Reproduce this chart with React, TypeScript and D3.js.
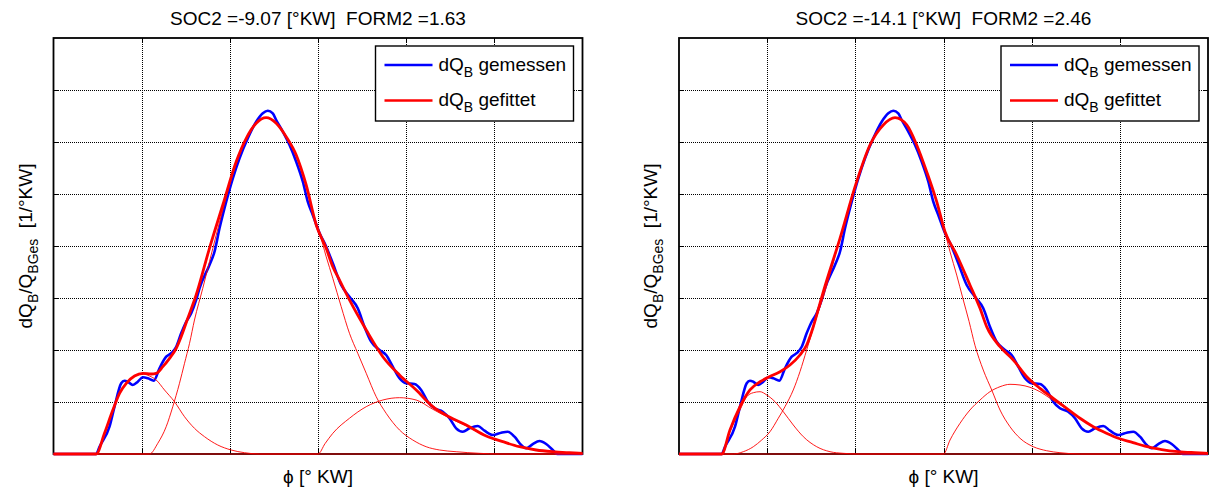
import React from 'react';
import * as d3 from 'd3';

type Pt = [number, number];

// x: crank angle [°KW] (no tick labels shown), y: dQB/QBGes in units of grid steps
const X_GRID = [-30, -20, -10, 0, 10, 20, 30];
const Y_GRID = [0, 1, 2, 3, 4, 5, 6, 7, 8];

const TITLES = ['SOC2 =-9.07 [°KW]  FORM2 =1.63', 'SOC2 =-14.1 [°KW]  FORM2 =2.46'];
const LEGEND_LABELS = ['gemessen', 'gefittet'];

// measured (same in both panels)
const measured: Pt[] = [
  [-30, 0], [-25.16, 0], [-24.78, 0.14], [-23.65, 0.525], [-23.08, 0.91], [-22.32, 1.36], [-21.95, 1.41],
  [-21.57, 1.39], [-21.01, 1.327], [-20.44, 1.39], [-19.87, 1.475], [-19.3, 1.456], [-18.62, 1.41],
  [-17.98, 1.648], [-17.22, 1.871], [-16.58, 1.948], [-16.08, 2.063], [-15.52, 2.321], [-14.95, 2.544],
  [-14.38, 2.706], [-13.82, 2.962], [-13.44, 3.187], [-12.31, 3.635], [-11.74, 3.89], [-11.17, 4.34],
  [-10.41, 4.852], [-9.66, 5.302], [-8.9, 5.687], [-7.96, 6.071], [-7.01, 6.39], [-6.26, 6.552],
  [-5.69, 6.602], [-5.13, 6.552], [-4.74, 6.423], [-3.99, 6.198], [-3.23, 5.942], [-2.47, 5.621],
  [-1.72, 5.237], [-1.16, 4.852], [-0.59, 4.596], [0.17, 4.25], [0.93, 3.987], [1.68, 3.667],
  [2.63, 3.25], [3.57, 3.025], [4.51, 2.802], [5.27, 2.448], [6.03, 2.16], [6.97, 2.0], [7.73, 1.904],
  [8.48, 1.679], [9.24, 1.456], [10.0, 1.36], [10.94, 1.346], [11.7, 1.231], [12.45, 1.006],
  [13.21, 0.879], [14.15, 0.813], [14.91, 0.687], [15.67, 0.494], [16.42, 0.429], [17.18, 0.494],
  [18.12, 0.538], [18.88, 0.448], [19.83, 0.365], [20.78, 0.41], [21.53, 0.429], [22.29, 0.333],
  [23.05, 0.173], [23.61, 0.11], [24.36, 0.192], [25.12, 0.25], [25.88, 0.192], [26.63, 0.077],
  [27.16, 0], [30, 0],
];

// left panel
const fitA: Pt[] = [
  [-30, 0], [-25.16, 0], [-24.22, 0.398], [-23.27, 0.846], [-22.51, 1.167], [-21.75, 1.36], [-20.81, 1.5],
  [-19.87, 1.552], [-18.92, 1.538], [-18.35, 1.552], [-17.6, 1.679], [-16.84, 1.84], [-16.08, 2.033],
  [-15.52, 2.256], [-14.77, 2.61], [-13.82, 3.058], [-12.31, 3.956], [-10.8, 4.788], [-9.28, 5.621],
  [-8.14, 6.071], [-7.01, 6.36], [-5.88, 6.467], [-4.74, 6.36], [-3.61, 6.102], [-2.47, 5.75],
  [-1.34, 5.173], [-0.2, 4.404], [0.93, 3.956], [1.68, 3.602], [2.44, 3.346], [3.57, 2.962],
  [5.47, 2.385], [7.35, 1.871], [9.24, 1.519], [11.14, 1.231], [13.02, 0.91], [14.91, 0.712],
  [16.81, 0.558], [19.08, 0.346], [20.96, 0.237], [22.85, 0.14], [24.75, 0.077], [26.63, 0.044],
  [28.52, 0.025], [30, 0.013],
];
const compA1: Pt[] = [
  [-30, 0], [-25.16, 0], [-24.22, 0.398], [-23.27, 0.846], [-22.51, 1.167], [-21.75, 1.36], [-20.81, 1.49],
  [-19.87, 1.538], [-19.11, 1.5], [-18.35, 1.423], [-17.41, 1.231], [-16.28, 1.006], [-15.14, 0.717],
  [-14.01, 0.494], [-12.87, 0.333], [-11.37, 0.173], [-9.85, 0.077], [-8.34, 0.025], [-6.64, 0], [30, 0],
];
const compA2: Pt[] = [
  [-30, 0], [-19.11, 0], [-18.17, 0.206], [-17.22, 0.525], [-16.47, 0.91], [-15.71, 1.36], [-15.14, 1.744],
  [-14.57, 2.129], [-14.01, 2.577], [-13.07, 3.187], [-12.31, 3.7], [-10.8, 4.69], [-9.28, 5.58],
  [-8.14, 6.05], [-7.01, 6.35], [-5.88, 6.467], [-4.74, 6.36], [-3.61, 6.102], [-2.47, 5.75],
  [-1.34, 5.173], [-0.2, 4.404], [0.17, 4.244], [0.93, 3.794], [1.68, 3.379], [2.63, 2.833],
  [3.57, 2.321], [4.51, 1.937], [5.47, 1.552], [6.6, 1.102], [7.73, 0.783], [9.24, 0.462],
  [10.75, 0.269], [12.27, 0.14], [13.78, 0.077], [15.67, 0.044], [18.32, 0.013], [20.6, 0], [30, 0],
];
const compA3: Pt[] = [
  [-30, 0], [0, 0], [0.8, 0.2], [1.68, 0.398], [3.57, 0.687], [5.47, 0.91], [7.35, 1.038], [9.24, 1.083],
  [11.14, 1.038], [13.02, 0.86], [14.91, 0.69], [16.81, 0.54], [19.08, 0.34], [20.96, 0.235],
  [22.85, 0.14], [24.75, 0.077], [26.63, 0.044], [28.52, 0.025], [30, 0.013],
];

// right panel
const fitB: Pt[] = [
  [-30, 0], [-25.16, 0], [-24.22, 0.462], [-23.08, 0.91], [-21.95, 1.231], [-20.81, 1.39], [-19.87, 1.475],
  [-18.54, 1.583], [-17.41, 1.712], [-16.28, 1.904], [-15.52, 2.096], [-14.77, 2.448], [-14.01, 2.898],
  [-13.63, 3.121], [-11.74, 4.148], [-9.85, 5.237], [-8.34, 5.942], [-6.83, 6.327], [-5.5, 6.467],
  [-4.17, 6.327], [-3.04, 5.942], [-1.91, 5.429], [-0.77, 4.852], [0.17, 4.275], [1.5, 3.827],
  [3.0, 3.25], [4.14, 2.802], [4.9, 2.448], [6.41, 2.063], [7.92, 1.808], [9.44, 1.487], [10.94, 1.263],
  [12.45, 1.071], [13.97, 0.879], [15.48, 0.687], [16.99, 0.525], [18.51, 0.398], [19.83, 0.302],
  [21.5, 0.22], [22.85, 0.15], [24.75, 0.085], [26.63, 0.045], [28.52, 0.025], [30, 0.013],
];
const compB1: Pt[] = [
  [-30, 0], [-25.16, 0], [-24.22, 0.429], [-23.08, 0.846], [-22.32, 1.102], [-21.57, 1.179], [-20.81, 1.198],
  [-20.05, 1.135], [-19.11, 1.006], [-18.17, 0.813], [-17.04, 0.558], [-15.9, 0.333], [-14.38, 0.14],
  [-12.87, 0.044], [-11.37, 0.013], [-9.5, 0], [30, 0],
];
const compB2: Pt[] = [
  [-30, 0], [-23.84, 0], [-22.71, 0.044], [-21.57, 0.14], [-20.62, 0.269], [-19.68, 0.429], [-18.74, 0.687],
  [-17.98, 0.91], [-17.04, 1.231], [-16.28, 1.583], [-15.52, 2.0], [-14.95, 2.321], [-14.38, 2.64],
  [-13.82, 2.92], [-11.74, 4.14], [-9.85, 5.237], [-8.34, 5.942], [-6.83, 6.327], [-5.5, 6.467],
  [-4.17, 6.327], [-3.04, 5.942], [-1.91, 5.429], [-0.77, 4.852], [0.0, 4.37], [0.74, 3.89], [1.5, 3.44],
  [2.2, 2.99], [2.9, 2.55], [3.57, 2.09], [4.51, 1.615], [5.47, 1.231], [6.41, 0.846], [7.54, 0.525],
  [8.68, 0.302], [10.19, 0.14], [11.7, 0.063], [13.21, 0.025], [15.5, 0], [30, 0],
];
const compB3: Pt[] = [
  [-30, 0], [0, 0], [0.74, 0.269], [1.87, 0.59], [3.0, 0.846], [4.14, 1.038], [5.27, 1.198], [6.41, 1.294],
  [7.54, 1.34], [8.68, 1.327], [9.81, 1.283], [10.94, 1.198], [12.08, 1.071], [13.21, 0.95], [13.97, 0.87],
  [15.48, 0.68], [16.99, 0.52], [18.51, 0.395], [19.83, 0.3], [21.5, 0.218], [22.85, 0.15], [24.75, 0.085],
  [26.63, 0.045], [28.52, 0.025], [30, 0.013],
];

const FONT = '"Liberation Sans", Arial, Helvetica, sans-serif';
const PLOT_W = 529;
const TOP = 38;
const BOTTOM = 454;

function Panel({ left, title, fit, comps }: { left: number; title: string; fit: Pt[]; comps: Pt[][] }) {
  const x = d3.scaleLinear().domain([X_GRID[0], X_GRID[X_GRID.length - 1]]).range([left, left + PLOT_W]);
  const y = d3.scaleLinear().domain([Y_GRID[0], Y_GRID[Y_GRID.length - 1]]).range([BOTTOM, TOP]);
  const line = d3
    .line<Pt>()
    .x((d) => x(d[0]))
    .y((d) => y(d[1]))
    .curve(d3.curveMonotoneX);
  const right = left + PLOT_W;
  const cx = left + PLOT_W / 2;
  const cy = (TOP + BOTTOM) / 2;
  const legW = 198;
  const legH = 75;
  const legX = right - 9 - legW;
  const legY = TOP + 8;
  const tick = 5;
  const snap = (v: number) => Math.round(v) + 0.5;
  return (
    <g>
      <rect x={left} y={TOP} width={PLOT_W} height={BOTTOM - TOP} fill="#fff" />
      <g shapeRendering="crispEdges">
        {X_GRID.slice(1, -1).map((v) => (
          <line key={'gx' + v} x1={snap(x(v))} x2={snap(x(v))} y1={TOP} y2={BOTTOM} stroke="#000" strokeWidth={1} strokeDasharray="1 1" />
        ))}
        {Y_GRID.slice(1, -1).map((v) => (
          <line key={'gy' + v} x1={left} x2={right} y1={snap(y(v))} y2={snap(y(v))} stroke="#000" strokeWidth={1} strokeDasharray="1 1" />
        ))}
        {X_GRID.slice(1, -1).map((v) => (
          <g key={'tx' + v} stroke="#000" strokeWidth={1}>
            <line x1={snap(x(v))} x2={snap(x(v))} y1={BOTTOM} y2={BOTTOM - tick} />
            <line x1={snap(x(v))} x2={snap(x(v))} y1={TOP} y2={TOP + tick} />
          </g>
        ))}
        {Y_GRID.slice(1, -1).map((v) => (
          <g key={'ty' + v} stroke="#000" strokeWidth={1}>
            <line x1={left} x2={left + tick} y1={snap(y(v))} y2={snap(y(v))} />
            <line x1={right} x2={right - tick} y1={snap(y(v))} y2={snap(y(v))} />
          </g>
        ))}
      </g>
      <rect x={left} y={TOP} width={PLOT_W} height={BOTTOM - TOP} fill="none" stroke="#000" strokeWidth={1.8} />
      <path d={line(measured) || ''} fill="none" stroke="#0000ff" strokeWidth={2.6} strokeLinejoin="round" />
      <path d={line(fit) || ''} fill="none" stroke="#ff0000" strokeWidth={2.8} strokeLinejoin="round" />
      {comps.map((c, i) => (
        <path key={'c' + i} d={line(c) || ''} fill="none" stroke="#ff0000" strokeWidth={0.9} />
      ))}
      {/* legend */}
      <rect x={legX} y={legY} width={legW} height={legH} fill="#fff" stroke="#000" strokeWidth={1.4} />
      {LEGEND_LABELS.map((lab, i) => {
        const ly = legY + 19 + i * 35.5;
        return (
          <g key={lab}>
            <line x1={legX + 9} x2={legX + 57} y1={ly} y2={ly} stroke={i === 0 ? '#0000ff' : '#ff0000'} strokeWidth={2.6} />
            <text x={legX + 63} y={ly + 5.5} fontFamily={FONT} fontSize={19} fill="#000">
              dQ<tspan dy={6} fontSize={14}>B</tspan>
              <tspan dy={-6}>{' ' + lab}</tspan>
            </text>
          </g>
        );
      })}
      <text x={cx} y={25} textAnchor="middle" fontFamily={FONT} fontSize={19} fill="#000" style={{ whiteSpace: 'pre' }}>
        {title}
      </text>
      <text x={cx} y={482.5} textAnchor="middle" fontFamily={FONT} fontSize={19} fill="#000">
        ϕ [° KW]
      </text>
      <text
        transform={`translate(${left - 22},${cy}) rotate(-90)`}
        textAnchor="middle"
        fontFamily={FONT}
        fontSize={19}
        fill="#000"
        style={{ whiteSpace: 'pre' }}
      >
        dQ<tspan dy={6} fontSize={14}>B</tspan>
        <tspan dy={-6}>/Q</tspan>
        <tspan dy={6} fontSize={14}>BGes</tspan>
        <tspan dy={-6}>{'  [1/°KW]'}</tspan>
      </text>
    </g>
  );
}

export default function App() {
  return (
    <svg
      width={1210}
      height={488}
      style={{ position: 'absolute', left: 0, top: 0, background: '#fff' }}
    >
      <rect x={0} y={0} width={1210} height={488} fill="#fff" />
      <Panel left={53.5} title={TITLES[0]} fit={fitA} comps={[compA1, compA2, compA3]} />
      <Panel left={679} title={TITLES[1]} fit={fitB} comps={[compB1, compB2, compB3]} />
    </svg>
  );
}
